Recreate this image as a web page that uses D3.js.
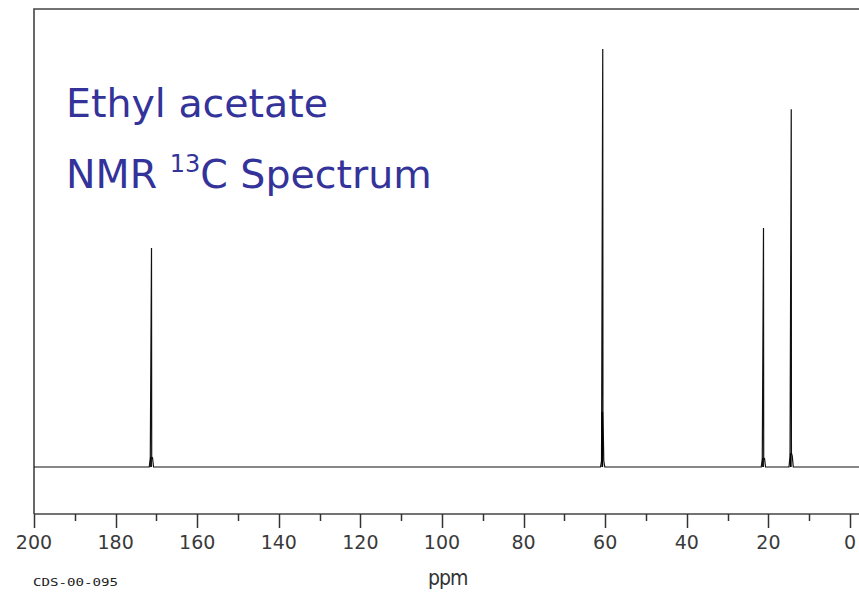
<!DOCTYPE html>
<html>
<head>
<meta charset="utf-8">
<script src="https://cdn.jsdelivr.net/npm/d3@7"></script>
<style>
  body { margin: 0; background: #fff; }
  svg { display: block; }
</style>
</head>
<body>
<div id="chart"></div>
<script>
// peaks (ppm, relative intensity)
const shifts = [171.2, 60.6, 21.2, 14.4];
const heights = [52.4, 100, 57.2, 85.6];
const shoulders = [2.4, 13.2, 2.2, 3.3];
const feet = [2.2, 1.5, 2.0, 2.6];
const tickValues = d3.range(0, 201, 10);
const labelValues = [200, 180, 160, 140, 120, 100, 80, 60, 40, 20, 0];

const W = 859, H = 593;
const svg = d3.select("#chart").append("svg")
    .attr("width", W)
    .attr("height", H);

const x = d3.scaleLinear().domain([200, 0]).range([34, 850]);
const y = d3.scaleLinear().domain([0, 100]).range([467, 49]);

const axisY = 514, topY = 9;

// frame
svg.append("path")
    .attr("d", `M${x(200)},${axisY}V${topY}H${W + 5}`)
    .attr("fill", "none")
    .attr("stroke", "#444")
    .attr("stroke-width", 1.6);

// axis
const axis = svg.append("g")
    .attr("transform", `translate(0,${axisY})`);
axis.append("line")
    .attr("x1", x(200)).attr("x2", W + 5)
    .attr("stroke", "#444").attr("stroke-width", 1.6);
axis.selectAll(".tick").data(tickValues).enter().append("line")
    .attr("x1", d => Math.round(x(d)) + 0.5).attr("x2", d => Math.round(x(d)) + 0.5)
    .attr("y1", 0).attr("y2", d => d % 20 === 0 ? 14 : 7)
    .attr("stroke", "#333").attr("stroke-width", 1.5);
axis.selectAll(".lbl").data(labelValues).enter().append("text")
    .attr("x", d => x(d))
    .attr("y", 35)
    .attr("text-anchor", "middle")
    .attr("font-family", "DejaVu Sans, Verdana, sans-serif")
    .attr("font-size", 19)
    .attr("fill", "#3a3a3a")
    .text(d => d);

svg.append("text")
    .attr("x", 428).attr("y", 585)
    .attr("font-family", "DejaVu Sans Condensed, DejaVu Sans, sans-serif")
    .attr("font-size", 21)
    .attr("letter-spacing", -1)
    .attr("fill", "#333")
    .text("ppm");

svg.append("text")
    .attr("x", 33).attr("y", 586)
    .attr("font-family", "DejaVu Sans Mono, monospace")
    .attr("font-size", 10)
    .attr("textLength", 85)
    .attr("lengthAdjust", "spacingAndGlyphs")
    .attr("fill", "#222")
    .text("CDS-00-095");

// spectrum
const peaks = shifts.map((s, i) => ({s, h: heights[i], sh: shoulders[i], f: feet[i]}));
const line = d3.line().x(d => x(d[0])).y(d => y(d[1]));
const pts = [[200, 0]];
peaks.slice().sort((a, b) => b.s - a.s).forEach(p => {
    pts.push([p.s + 0.55, 0], [p.s + 0.3, p.f], [p.s, p.h], [p.s - 0.05, p.sh],
             [p.s - 0.25, p.f], [p.s - 0.5, 0]);
});
pts.push([-2.5, 0]);
svg.append("path")
    .attr("d", line(pts))
    .attr("fill", "none")
    .attr("stroke", "#111")
    .attr("stroke-width", 1.2);

// heavier base of each line
svg.selectAll(".base").data(peaks).enter().append("line")
    .attr("x1", d => x(d.s) - 0.5).attr("x2", d => x(d.s) - 0.5)
    .attr("y1", y(0)).attr("y2", d => y(d.sh))
    .attr("stroke", "#000").attr("stroke-width", 1.8);

// title
const title = svg.append("g")
    .attr("font-family", "DejaVu Sans, Verdana, sans-serif")
    .attr("fill", "#333399");
title.append("text")
    .attr("x", 66).attr("y", 117)
    .attr("font-size", 39.5)
    .text("Ethyl acetate");
const t2 = title.append("text")
    .attr("x", 66).attr("y", 188)
    .attr("font-size", 39.5);
t2.append("tspan").text("NMR ");
t2.append("tspan").attr("font-size", 24).attr("dy", -16).text("13");
t2.append("tspan").attr("dy", 16).text("C Spectrum");
</script>
</body>
</html>
